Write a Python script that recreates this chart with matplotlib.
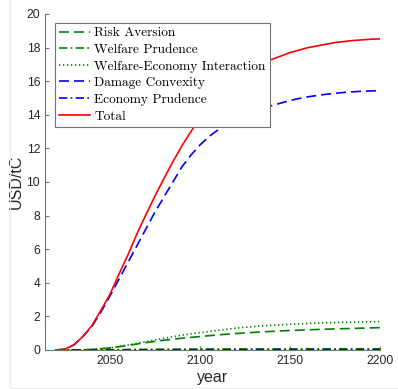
import matplotlib
matplotlib.use("Agg")
import matplotlib.pyplot as plt
from matplotlib.lines import Line2D

# ---- data ----
years_fine = list(range(2020, 2201, 5))
total = [0.0, 0.05, 0.3, 0.8, 1.45, 2.35, 3.3, 4.5, 5.65, 6.9, 8.05, 9.15, 10.2,
         11.2, 12.15, 13.0, 13.8, 14.5, 15.1, 15.65, 16.1, 16.5, 16.85, 17.1,
         17.3, 17.5, 17.7, 17.85, 18.0, 18.1, 18.2, 18.3, 18.36, 18.42, 18.46,
         18.5, 18.52]
damage_convexity = [0.0, 0.05, 0.3, 0.8, 1.4, 2.25, 3.2, 4.2, 5.2, 6.2, 7.2, 8.2,
                    9.1, 10.0, 10.9, 11.6, 12.2, 12.7, 13.1, 13.45, 13.75, 14.0,
                    14.2, 14.4, 14.55, 14.7, 14.85, 14.97, 15.07, 15.15, 15.22,
                    15.28, 15.33, 15.37, 15.4, 15.42, 15.44]

years_coarse = list(range(2020, 2201, 10))
risk_aversion = [0.0, 0.0, 0.03, 0.12, 0.27, 0.44, 0.58, 0.7, 0.8, 0.9, 0.98,
                 1.05, 1.11, 1.16, 1.2, 1.24, 1.27, 1.3, 1.33]
welfare_prudence = [0.0, 0.0, 0.01, 0.02, 0.03, 0.04, 0.045, 0.05, 0.055, 0.06,
                    0.062, 0.064, 0.066, 0.068, 0.07, 0.071, 0.072, 0.073, 0.074]
welfare_economy = [0.0, 0.0, 0.03, 0.13, 0.3, 0.5, 0.7, 0.88, 1.03, 1.17, 1.3,
                   1.4, 1.47, 1.53, 1.58, 1.62, 1.65, 1.67, 1.69]
economy_prudence = [0.0, 0.0, 0.0, 0.005, 0.01, 0.012, 0.014, 0.015, 0.016, 0.017,
                    0.018, 0.018, 0.019, 0.019, 0.02, 0.02, 0.02, 0.02, 0.02]

labels = ["Risk Aversion", "Welfare Prudence", "Welfare-Economy Interaction",
          "Damage Convexity", "Economy Prudence", "Total"]
xticks = [2050, 2100, 2150, 2200]
yticks = list(range(0, 21, 2))

# ---- figure ----
fig = plt.figure(figsize=(3.98, 3.89), dpi=100)
ax = fig.add_axes([45 / 398, 1 - 350 / 389, 335 / 398, 336 / 389])

green = (0.0, 0.5, 0.0)
lw = 1.2
ax.plot(years_coarse, risk_aversion, color=green, lw=lw, ls=(0, (6, 3)), label=labels[0])
ax.plot(years_coarse, welfare_prudence, color=green, lw=lw, ls=(0, (5, 2, 1, 2)), label=labels[1])
ax.plot(years_coarse, welfare_economy, color=green, lw=lw, ls=(0, (0.8, 1.6)), label=labels[2])
ax.plot(years_fine, damage_convexity, color="blue", lw=lw, ls=(0, (6, 3)), label=labels[3])
ax.plot(years_coarse, economy_prudence, color="blue", lw=lw, ls=(0, (5, 2, 1, 2)), label=labels[4])
ax.plot(years_fine, total, color="red", lw=lw, ls="-", label=labels[5])

ax.set_xlim(2014, 2200)
ax.set_ylim(0, 20)
ax.set_xticks(xticks)
ax.set_yticks(yticks)

for s in ["top", "right"]:
    ax.spines[s].set_visible(False)
for s in ["left", "bottom"]:
    ax.spines[s].set_color("0.45")
    ax.spines[s].set_linewidth(0.8)
ax.tick_params(direction="in", length=3, width=0.8, color="0.45",
               labelsize=8.7, labelcolor="0.15")
for t in ax.get_xticklabels() + ax.get_yticklabels():
    t.set_family("Liberation Sans")

ax.set_xlabel("year", fontsize=11.5, family="Liberation Sans", color="0.15", labelpad=2)
ax.set_ylabel("USD/tC", fontsize=11.5, family="Liberation Sans", color="0.15", labelpad=2)

leg = ax.legend(loc="upper left", bbox_to_anchor=(10 / 335, 1 - 9 / 336),
                borderaxespad=0, fancybox=False, framealpha=1,
                edgecolor="0.45", prop={"family": "cmr10", "size": 9.6},
                handlelength=2.3, handletextpad=0.35, labelspacing=0.32,
                borderpad=0.3)
leg.get_frame().set_linewidth(0.8)

# faint border lines of the original screenshot
fig.add_artist(Line2D([10 / 398, 10 / 398], [0, 1], color="0.92", lw=0.8))
fig.add_artist(Line2D([10 / 398, 1], [1 / 389, 1 / 389], color="0.92", lw=0.8))

fig.savefig("out.png", dpi=100)
